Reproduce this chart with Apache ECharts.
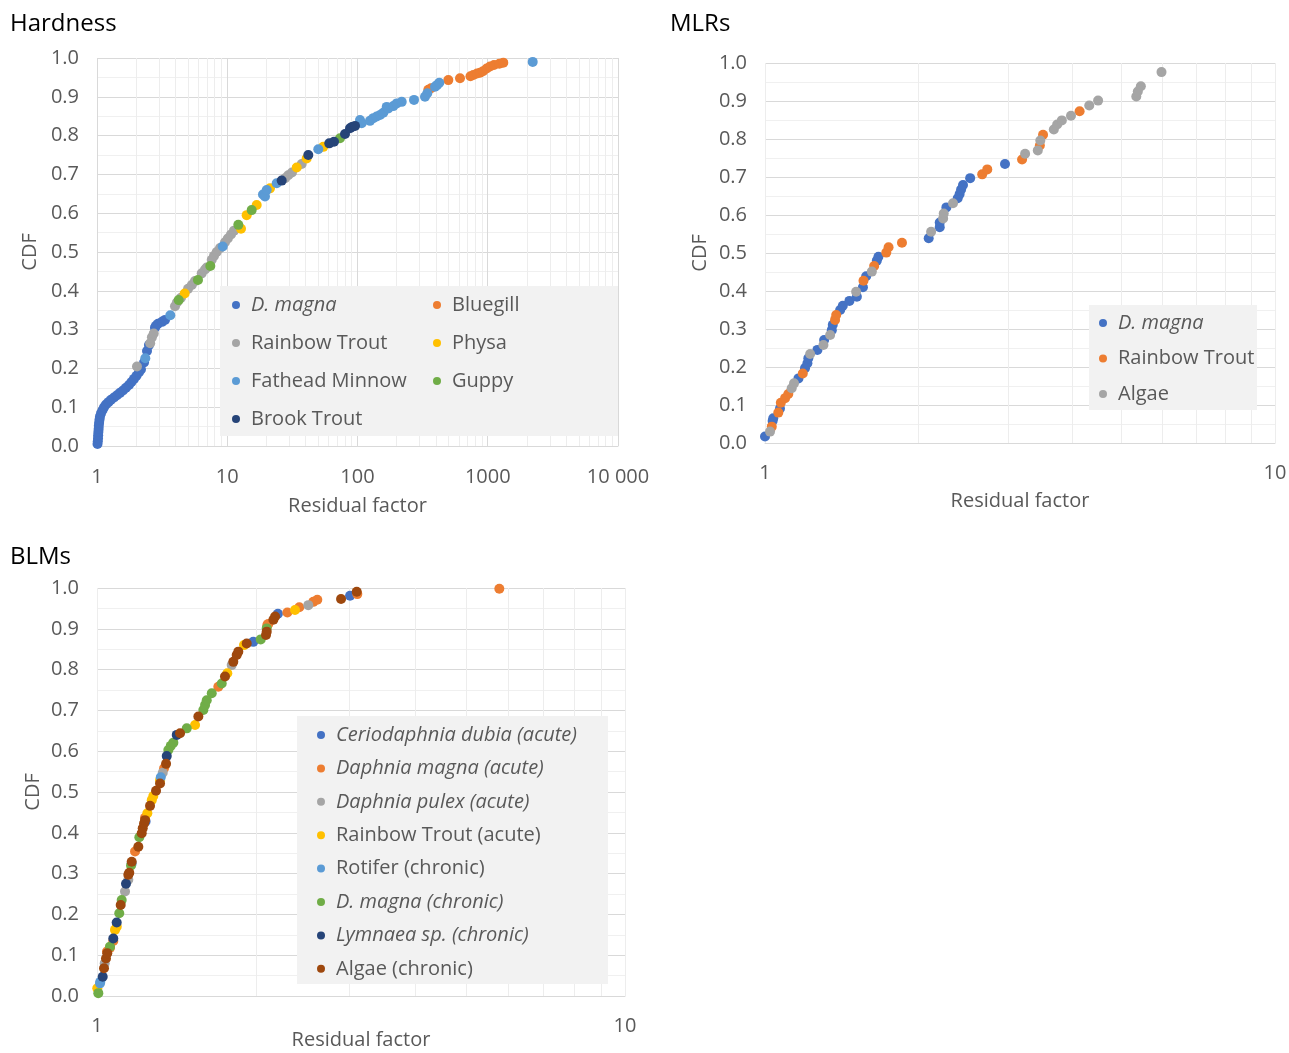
<!DOCTYPE html>
<html>
<head>
<meta charset="utf-8">
<script src="https://cdn.jsdelivr.net/npm/echarts@6/dist/echarts.min.js"></script>
<style>
  html, body { margin: 0; padding: 0; background: #fff; }
  #chart { width: 1289px; height: 1053px; }
</style>
</head>
<body>
<div id="chart"></div>
<script>
// ---- Hardness panel: [residual factor, CDF] per species ----
var hDmagna = [[1.009,0.005],[1.014,0.012],[1.018,0.020],[1.021,0.028],[1.025,0.036],[1.029,0.044],[1.032,0.052],[1.038,0.060],[1.046,0.068],[1.054,0.076],[1.073,0.084],[1.102,0.092],[1.132,0.100],[1.172,0.107],[1.225,0.113],[1.281,0.119],[1.351,0.125],[1.424,0.131],[1.502,0.137],[1.583,0.143],[1.669,0.150],[1.760,0.157],[1.840,0.165],[1.924,0.173],[2.011,0.181],[2.102,0.190],[2.175,0.197],[2.296,0.215],[2.421,0.245],[2.506,0.260],[2.786,0.305],[2.836,0.310],[2.939,0.315],[3.156,0.320],[3.328,0.325]];
var hBluegill = [[349.7,0.918],[366.7,0.922],[497.9,0.943],[612.4,0.948],[737,0.953],[774.6,0.956],[827,0.960],[872,0.962],[919,0.966],[981,0.973],[1041,0.978],[1117,0.982],[1227,0.985],[1316,0.988]];
var hRainbow = [[2.028,0.205],[2.56,0.265],[2.64,0.280],[2.727,0.290],[3.97,0.360],[4.107,0.370],[4.415,0.382],[5.0,0.405],[5.345,0.415],[5.65,0.425],[6.37,0.445],[6.75,0.455],[6.96,0.460],[7.6,0.480],[7.91,0.490],[8.3,0.500],[8.8,0.510],[9.61,0.525],[10.1,0.535],[10.68,0.545],[11.27,0.555],[27.8,0.690],[29.4,0.698],[31.4,0.705],[37.3,0.727]];
var hPhysa = [[4.71,0.393],[12.75,0.560],[14.1,0.595],[16.83,0.621],[21.29,0.664],[34.15,0.718],[40.7,0.741],[54.6,0.771]];
var hFathead = [[2.349,0.226],[3.654,0.337],[9.23,0.514],[18.8,0.648],[19.49,0.643],[20.09,0.660],[23.98,0.677],[50.0,0.765],[104.5,0.840],[107.7,0.832],[124.7,0.838],[132.2,0.845],[140.4,0.849],[148.9,0.853],[157.8,0.859],[167.6,0.874],[172.4,0.870],[188.3,0.876],[200,0.883],[218.5,0.887],[271.6,0.892],[329.8,0.900],[343.6,0.909],[393.6,0.926],[407.7,0.930],[424.6,0.936],[2214,0.990]];
var hGuppy = [[4.24,0.376],[5.96,0.428],[7.41,0.464],[12.16,0.570],[15.4,0.608],[73.4,0.793]];
var hBrook = [[26.18,0.684],[41.9,0.750],[60.7,0.780],[66.0,0.784],[80.2,0.804],[87.6,0.819],[90.7,0.822],[95.7,0.825]];

// ---- MLRs panel ----
var mDmagna = [[1.000,0.017],[1.035,0.058],[1.038,0.065],[1.070,0.091],[1.163,0.170],[1.198,0.197],[1.211,0.210],[1.216,0.223],[1.267,0.245],[1.306,0.271],[1.352,0.297],[1.358,0.311],[1.404,0.350],[1.421,0.361],[1.464,0.374],[1.514,0.385],[1.556,0.410],[1.579,0.439],[1.657,0.480],[1.669,0.490],[2.094,0.539],[2.201,0.568],[2.201,0.580],[2.268,0.620],[2.387,0.644],[2.408,0.655],[2.424,0.667],[2.445,0.679],[2.525,0.697],[2.955,0.734]];
var mRainbow = [[1.031,0.043],[1.062,0.080],[1.074,0.106],[1.095,0.118],[1.111,0.129],[1.186,0.183],[1.372,0.324],[1.379,0.337],[1.560,0.427],[1.637,0.466],[1.729,0.501],[1.747,0.515],[1.856,0.527],[2.666,0.707],[2.728,0.720],[3.192,0.746],[3.459,0.783],[3.509,0.811],[4.139,0.873]];
var mAlgae = [[1.023,0.030],[1.128,0.144],[1.140,0.157],[1.226,0.234],[1.302,0.258],[1.342,0.284],[1.509,0.398],[1.620,0.451],[2.117,0.556],[2.235,0.591],[2.241,0.604],[2.337,0.631],[3.236,0.761],[3.427,0.770],[3.466,0.796],[3.684,0.825],[3.740,0.838],[3.820,0.849],[3.981,0.861],[4.323,0.888],[4.499,0.901],[5.346,0.912],[5.383,0.925],[5.457,0.939],[5.990,0.976]];

// ---- BLMs panel ----
var bCerio = [[1.236,0.428],[1.977,0.868],[2.201,0.937],[3.015,0.981]];
var bDmagnaAcute = [[1.0446,0.109],[1.0583,0.118],[1.0736,0.135],[1.1804,0.354],[1.2330,0.437],[1.3397,0.558],[1.6975,0.758],[2.1016,0.909],[2.1108,0.912],[2.2937,0.940],[2.4163,0.953],[2.5684,0.966],[2.6136,0.971],[3.1121,0.985],[5.7806,0.998]];
var bPulex = [[1.0341,0.080],[1.1299,0.256],[1.1463,0.285],[1.3321,0.547],[1.7994,0.811],[2.5130,0.958]];
var bRainbow = [[1.0013,0.019],[1.0816,0.162],[1.0900,0.170],[1.2455,0.448],[1.2696,0.480],[1.2785,0.490],[1.3165,0.529],[1.5336,0.664],[1.7652,0.791],[1.8986,0.860],[2.3714,0.946]];
var bRotifer = [[1.0132,0.031],[1.0145,0.035],[1.1634,0.325],[1.3205,0.536]];
var bDmagnaChronic = [[1.0057,0.007],[1.0583,0.121],[1.1020,0.203],[1.1137,0.235],[1.1600,0.320],[1.2027,0.389],[1.3650,0.603],[1.3794,0.613],[1.3951,0.621],[1.4791,0.656],[1.5901,0.701],[1.6019,0.713],[1.6138,0.725],[1.6494,0.742],[1.7229,0.766],[2.0421,0.874],[2.0961,0.901]];
var bLymnaea = [[1.0252,0.047],[1.0736,0.141],[1.0897,0.180],[1.1348,0.275],[1.3555,0.588],[1.4160,0.640]];
var bAlgae = [[1.0310,0.068],[1.0400,0.092],[1.0459,0.105],[1.1088,0.223],[1.1463,0.297],[1.1512,0.302],[1.1634,0.329],[1.1975,0.366],[1.2153,0.399],[1.2207,0.411],[1.2277,0.423],[1.2330,0.431],[1.2602,0.466],[1.2937,0.503],[1.3165,0.521],[1.3514,0.569],[1.4365,0.644],[1.5558,0.685],[1.7475,0.783],[1.8120,0.819],[1.8391,0.836],[1.8520,0.844],[1.9211,0.864],[2.0898,0.885],[2.0961,0.893],[2.1581,0.922],[2.1742,0.930],[2.8987,0.973],[3.1039,0.991]];

// minor vertical grid values (2..9 in each decade)
var hardnessMinor = [2,3,4,5,6,7,8,9,20,30,40,50,60,70,80,90,200,300,400,500,600,700,800,900,2000,3000,4000,5000,6000,7000,8000,9000];
var oneDecadeMinor = [2,3,4,5,6,7,8,9];

var FONT = '"Open Sans", "DejaVu Sans", sans-serif';
var GREY_TXT = '#595959';
var C = {blue:'#4472C4', orange:'#ED7D31', grey:'#A5A5A5', yellow:'#FFC000', lblue:'#5B9BD5', green:'#70AD47', dblue:'#264478', brown:'#9E480E'};

var chart = echarts.init(document.getElementById('chart'));

function xAxisFor(idx, max, gap, margin, labelFmt) {
  return {
    type: 'log', logBase: 10, min: 1, max: max, gridIndex: idx,
    name: 'Residual factor', nameLocation: 'middle', nameGap: gap, nameMoveOverlap: false,
    nameTextStyle: {fontFamily: FONT, fontSize: 20, color: GREY_TXT},
    axisLine: {show: true, lineStyle: {color: '#D9D9D9'}},
    axisTick: {show: false},
    axisLabel: {fontFamily: FONT, fontSize: 20, color: GREY_TXT, margin: margin, formatter: labelFmt},
    splitLine: {show: true, lineStyle: {color: idx === 0 ? '#D9D9D9' : '#EDEDED'}}
  };
}
function yAxisFor(idx, gap) {
  return {
    type: 'value', min: 0, max: 1, interval: 0.1, gridIndex: idx,
    name: 'CDF', nameLocation: 'middle', nameGap: gap, nameRotate: 90,
    nameTextStyle: {fontFamily: FONT, fontSize: 20, color: GREY_TXT},
    axisLine: {show: false}, axisTick: {show: false},
    axisLabel: {fontFamily: FONT, fontSize: 20, color: GREY_TXT, margin: 18,
      formatter: function (v) { return v.toFixed(1); }},
    splitLine: {show: true, lineStyle: {color: '#D9D9D9'}},
    minorTick: {show: false, splitNumber: 2},
    minorSplitLine: {show: true, lineStyle: {color: '#F0F0F0'}}
  };
}
function pts(name, data, color, idx) {
  return {
    name: name, type: 'scatter', data: data, xAxisIndex: idx, yAxisIndex: idx,
    symbol: 'circle', symbolSize: 10, itemStyle: {color: color, opacity: 1},
    emphasis: {disabled: true}, animation: false
  };
}
function minorLines(values, idx) {
  return {
    type: 'scatter', data: [], xAxisIndex: idx, yAxisIndex: idx, silent: true,
    markLine: {
      silent: true, symbol: 'none', z: 0, animation: false,
      label: {show: false},
      lineStyle: {color: '#EDEDED', width: 1, type: 'solid'},
      emphasis: {disabled: true},
      data: values.map(function (v) { return {xAxis: v}; })
    }
  };
}
function legendCol(left, top, gap, names, italics) {
  return {
    orient: 'vertical', left: left, top: top, padding: 0, itemGap: gap,
    itemWidth: 20, itemHeight: 8, icon: 'circle', selectedMode: false,
    textStyle: {fontFamily: FONT, fontSize: 20, lineHeight: 20, color: GREY_TXT},
    formatter: function (n) { return n.split(': ')[1]; },
    data: names.map(function (n, i) {
      return italics[i] ? {name: n, textStyle: {fontStyle: 'italic'}} : {name: n};
    })
  };
}
function bgRect(x, y, w, h) {
  return {type: 'rect', z: 1, silent: true, shape: {x: x, y: y, width: w, height: h}, style: {fill: '#F2F2F2'}};
}
function title(text, x, y) {
  return {type: 'text', z: 5, left: x, top: y, style: {text: text, fontFamily: FONT, fontSize: 24, fill: '#000'}};
}

var option = {
  backgroundColor: '#fff',
  animation: false,
  grid: [
    {left: 97, top: 58, width: 521, height: 388, outerBoundsMode: 'none'},
    {left: 765, top: 63, width: 510, height: 380, outerBoundsMode: 'none'},
    {left: 97, top: 588, width: 528, height: 408, outerBoundsMode: 'none'}
  ],
  xAxis: [
    xAxisFor(0, 10000, 50, 21, function (v) { return v === 10000 ? '10 000' : String(v); }),
    xAxisFor(1, 10, 48, 20, function (v) { return String(v); }),
    xAxisFor(2, 10, 34, 20, function (v) { return String(v); })
  ],
  yAxis: [yAxisFor(0, 57), yAxisFor(1, 55), yAxisFor(2, 54)],
  legend: [
    legendCol(232, 295, 18, ['Hardness: D. magna', 'Hardness: Rainbow Trout', 'Hardness: Fathead Minnow', 'Hardness: Brook Trout'], [true, false, false, false]),
    legendCol(433, 295, 18, ['Hardness: Bluegill', 'Hardness: Physa', 'Hardness: Guppy'], [false, false, false]),
    legendCol(1099, 313, 15.5, ['MLRs: D. magna', 'MLRs: Rainbow Trout', 'MLRs: Algae'], [true, false, false]),
    legendCol(317, 725, 13.4, ['BLMs: Ceriodaphnia dubia (acute)', 'BLMs: Daphnia magna (acute)', 'BLMs: Daphnia pulex (acute)', 'BLMs: Rainbow Trout (acute)', 'BLMs: Rotifer (chronic)', 'BLMs: D. magna (chronic)', 'BLMs: Lymnaea sp. (chronic)', 'BLMs: Algae (chronic)'], [true, true, true, false, false, true, true, false])
  ],
  graphic: [
    bgRect(220, 286, 398, 150),
    bgRect(1089, 305, 168, 105),
    bgRect(297, 716, 311, 268),
    title('Hardness', 10, 12),
    title('MLRs', 670, 12),
    title('BLMs', 10, 545)
  ],
  series: [
    minorLines(hardnessMinor, 0),
    minorLines(oneDecadeMinor, 1),
    minorLines(oneDecadeMinor, 2),
    pts('Hardness: D. magna', hDmagna, C.blue, 0),
    pts('Hardness: Bluegill', hBluegill, C.orange, 0),
    pts('Hardness: Rainbow Trout', hRainbow, C.grey, 0),
    pts('Hardness: Physa', hPhysa, C.yellow, 0),
    pts('Hardness: Fathead Minnow', hFathead, C.lblue, 0),
    pts('Hardness: Guppy', hGuppy, C.green, 0),
    pts('Hardness: Brook Trout', hBrook, C.dblue, 0),
    pts('MLRs: D. magna', mDmagna, C.blue, 1),
    pts('MLRs: Rainbow Trout', mRainbow, C.orange, 1),
    pts('MLRs: Algae', mAlgae, C.grey, 1),
    pts('BLMs: Ceriodaphnia dubia (acute)', bCerio, C.blue, 2),
    pts('BLMs: Daphnia magna (acute)', bDmagnaAcute, C.orange, 2),
    pts('BLMs: Daphnia pulex (acute)', bPulex, C.grey, 2),
    pts('BLMs: Rainbow Trout (acute)', bRainbow, C.yellow, 2),
    pts('BLMs: Rotifer (chronic)', bRotifer, C.lblue, 2),
    pts('BLMs: D. magna (chronic)', bDmagnaChronic, C.green, 2),
    pts('BLMs: Lymnaea sp. (chronic)', bLymnaea, C.dblue, 2),
    pts('BLMs: Algae (chronic)', bAlgae, C.brown, 2)
  ]
};
chart.setOption(option);
</script>
</body>
</html>
